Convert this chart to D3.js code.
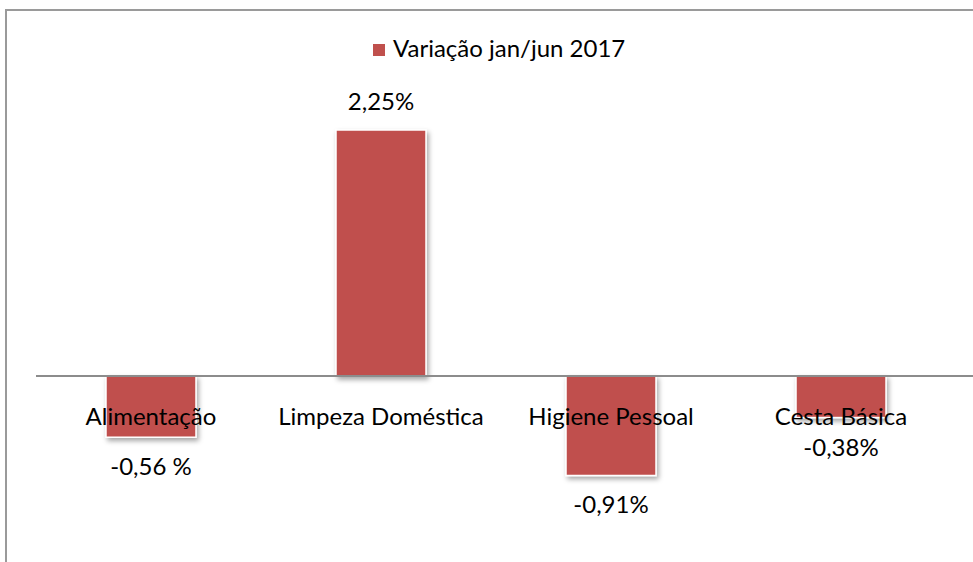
<!DOCTYPE html>
<html>
<head>
<meta charset="utf-8">
<script src="https://cdn.jsdelivr.net/npm/d3@7"></script>
<style>
  body { margin: 0; background: #fff; }
  svg { display: block; font-family: Lato, "Open Sans", sans-serif; }
</style>
</head>
<body>
<svg width="973" height="562"></svg>
<script>
// dados do gráfico
const categorias = ["Alimentação", "Limpeza Doméstica", "Higiene Pessoal", "Cesta Básica"];
const valores = [-0.56, 2.25, -0.91, -0.38];
const rotulos = ["-0,56 %", "2,25%", "-0,91%", "-0,38%"];
const serie = "Variação jan/jun 2017";

const svg = d3.select("svg");

// moldura da área do gráfico
svg.append("line").attr("x1", 6).attr("x2", 973).attr("y1", 10).attr("y2", 10)
    .attr("stroke", "#9a9a9a").attr("stroke-width", 2);
svg.append("line").attr("x1", 6).attr("x2", 6).attr("y1", 9).attr("y2", 562)
    .attr("stroke", "#9a9a9a").attr("stroke-width", 2);

// sombra das barras
const defs = svg.append("defs");
const f = defs.append("filter").attr("id", "sombra")
    .attr("x", "-20%").attr("y", "-20%").attr("width", "140%").attr("height", "140%");
f.append("feDropShadow").attr("dx", 2).attr("dy", 3).attr("stdDeviation", 2.5)
    .attr("flood-color", "#000").attr("flood-opacity", 0.35);

const x = d3.scaleBand()
    .domain(categorias)
    .range([36, 956])
    .paddingInner(0.6087)
    .paddingOuter(0.3043);

const y = d3.scaleLinear()
    .domain([0, 2.25])
    .range([376, 130]);

// barras
svg.append("g")
    .selectAll("rect")
    .data(valores)
    .enter().append("rect")
    .attr("x", (d, i) => x(categorias[i]))
    .attr("width", x.bandwidth())
    .attr("y", d => y(Math.max(0, d)))
    .attr("height", d => Math.abs(y(d) - y(0)))
    .attr("fill", "#C0504D")
    .attr("stroke", "#fff")
    .attr("stroke-width", 1.5)
    .attr("filter", "url(#sombra)");

// eixo horizontal em zero
svg.append("line")
    .attr("x1", 36).attr("x2", 973)
    .attr("y1", y(0)).attr("y2", y(0))
    .attr("stroke", "#8c8c8c").attr("stroke-width", 2);

// nomes das categorias
svg.append("g")
    .selectAll("text")
    .data(categorias)
    .enter().append("text")
    .attr("x", d => x(d) + x.bandwidth() / 2)
    .attr("y", y(0) + 49)
    .attr("text-anchor", "middle")
    .style("font-size", "24px")
    .attr("fill", "#000")
    .text(d => d);

// rótulos de valores
svg.append("g")
    .selectAll("text")
    .data(valores)
    .enter().append("text")
    .attr("x", (d, i) => x(categorias[i]) + x.bandwidth() / 2)
    .attr("y", d => d >= 0 ? y(d) - 20 : y(d) + 38)
    .attr("text-anchor", "middle")
    .style("font-size", "24px")
    .attr("fill", "#000")
    .text((d, i) => rotulos[i]);

// legenda
const legenda = svg.append("g").attr("transform", "translate(373, 44)");
legenda.append("rect").attr("width", 12).attr("height", 12).attr("fill", "#C0504D");
legenda.append("text")
    .attr("x", 20).attr("y", 13)
    .style("font-size", "24px")
    .attr("fill", "#000")
    .text(serie);
</script>
</body>
</html>
